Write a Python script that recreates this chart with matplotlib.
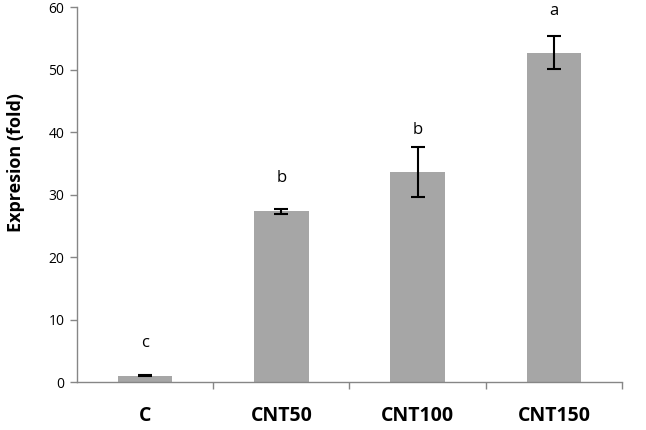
import matplotlib.pyplot as plt
import numpy as np

# data
groups = ['C', 'CNT50', 'CNT100', 'CNT150']
expression = [1.0, 27.3, 33.6, 52.7]
errors = [0.06, 0.35, 4.0, 2.6]
letters = ['c', 'b', 'b', 'a']
letter_y = [6.3, 32.6, 40.4, 59.3]

plt.rcParams['font.family'] = ['Open Sans', 'DejaVu Sans']

fig = plt.figure(figsize=(6.46, 4.30), dpi=100)
ax = fig.add_axes([0.119, 0.1116, 0.844, 0.872])

x = np.arange(len(groups))
ax.bar(x, expression, width=0.4, color='#a6a6a6', zorder=2)
ax.errorbar(x, expression, yerr=errors, fmt='none', ecolor='black',
            elinewidth=1.5, capsize=5, capthick=1.5, zorder=3)

for xi, lab, ly in zip(x, letters, letter_y):
    ax.text(xi, ly, lab, ha='center', va='center', fontsize=12)

ax.set_xlim(-0.5, len(groups) - 0.5)
ax.set_ylim(0, 60)
ax.set_yticks(range(0, 61, 10))
ax.set_xticks(x)
ax.set_xticklabels(groups, fontsize=14, fontweight='bold')
ax.set_xticks(np.arange(0.5, len(groups), 1), minor=True)
ax.tick_params(axis='x', which='major', length=0, pad=17)
ax.tick_params(axis='x', which='minor', length=5, color='#868686', width=1)
ax.tick_params(axis='y', length=5, color='#868686', width=1, labelsize=10,
               pad=4)
ax.set_ylabel('Expresion (fold)', fontsize=13, fontweight='bold')
# the label sits a bit above the axis middle in the original
ax.yaxis.set_label_coords(-0.096, 0.585)

for side in ['top', 'right']:
    ax.spines[side].set_visible(False)
for side in ['left', 'bottom']:
    ax.spines[side].set_color('#868686')
    ax.spines[side].set_linewidth(1)

fig.savefig('out.png', dpi=100)
